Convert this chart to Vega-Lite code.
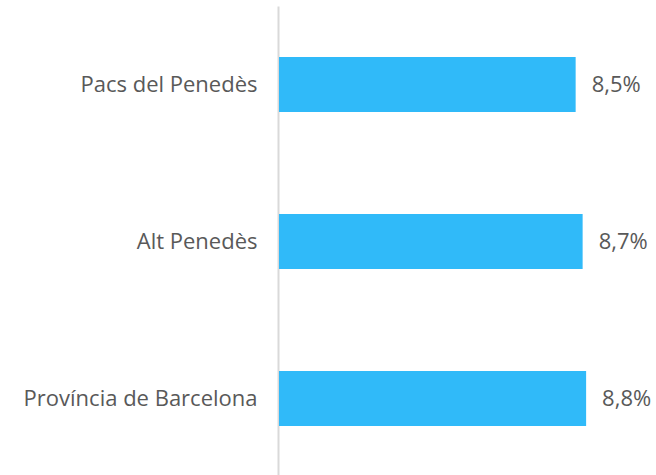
{
  "$schema": "https://vega.github.io/schema/vega-lite/v6.json",
  "autosize": "none",
  "padding": {"left": 279, "top": 6, "right": 28, "bottom": 0},
  "width": 349,
  "height": 471,
  "background": "white",
  "config": {"view": {"stroke": null}, "font": "Open Sans"},
  "data": {"values": [
    {"area": "Pacs del Penedès", "value": 8.5, "label": "8,5%"},
    {"area": "Alt Penedès", "value": 8.7, "label": "8,7%"},
    {"area": "Província de Barcelona", "value": 8.8, "label": "8,8%"}
  ]},
  "encoding": {
    "y": {"field": "area", "type": "nominal", "sort": null,
      "scale": {"paddingInner": 0.65, "paddingOuter": 0.325},
      "axis": {"title": null, "ticks": false, "domainColor": "#d9d9d9", "domainWidth": 2, "offset": 1,
        "labelFontSize": 22, "labelColor": "#595959", "labelPadding": 21, "labelFont": "Open Sans", "labelLimit": 300}},
    "x": {"field": "value", "type": "quantitative", "scale": {"domain": [0, 10]}, "axis": null}
  },
  "layer": [
    {"mark": {"type": "bar", "color": "#30BAF9", "height": 55}},
    {"mark": {"type": "text", "align": "left", "dx": 16, "fontSize": 22, "color": "#595959", "font": "Open Sans"},
     "encoding": {"text": {"field": "label"}}}
  ]
}
